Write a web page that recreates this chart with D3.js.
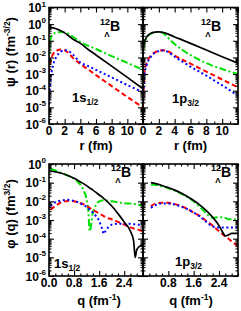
<!DOCTYPE html>
<html><head><meta charset="utf-8">
<script src="https://cdn.jsdelivr.net/npm/d3@7"></script>
<style>
body{margin:0;background:#fff}
svg{display:block}
text{font-family:"Liberation Sans",Arial,Helvetica,sans-serif;font-weight:bold;fill:#000}
</style>
</head><body>
<svg id="c" width="241" height="311"></svg>
<script>
// ---------- data ----------
const rGrid = [0, 0.2, 0.5, 1, 1.5, 2, 2.5, 3, 4, 5, 6, 8, 10, 12];
const psi1sBlack = [0.62, 0.62, 0.6, 0.5, 0.4, 0.3, 0.2, 0.13, 0.07, 0.03, 0.014, 3e-3, 6.3e-4, 1.3e-4];
const psi1sGreen = [0.012, 0.12, 0.25, 0.32, 0.34, 0.32, 0.26, 0.18, 0.085, 0.05, 0.032, 0.012, 4.7e-3, 1.8e-3];
const psi1sRed   = [1.2e-3, 6e-3, 0.015, 0.026, 0.03, 0.027, 0.018, 0.01, 4e-3, 1.9e-3, 8.7e-4, 1.9e-4, 4.2e-5, 1e-5];
const psi1sBlue  = [1.5e-5, 4e-4, 3e-3, 0.012, 0.022, 0.027, 0.024, 0.016, 5e-3, 3e-3, 1.8e-3, 6.3e-4, 2.2e-4, 8e-5];

const psi1pBlack = [0.06, 0.1, 0.18, 0.28, 0.33, 0.34, 0.32, 0.27, 0.17, 0.11, 0.07, 0.028, 0.011, 4.5e-3];
const psi1pGreen = [0.03, 0.08, 0.16, 0.27, 0.33, 0.34, 0.3, 0.18, 0.063, 0.028, 0.014, 4.5e-3, 2e-3, 1e-3];
const psi1pRed   = [1e-5, 1.5e-3, 5e-3, 0.013, 0.02, 0.025, 0.027, 0.025, 0.013, 7.2e-3, 4.2e-3, 1.4e-3, 4.7e-4, 1.6e-4];
const psi1pBlue  = [2e-5, 1e-3, 4e-3, 0.011, 0.019, 0.024, 0.026, 0.023, 0.011, 5.5e-3, 2.8e-3, 8e-4, 2.1e-4, 5e-5];

const qGrid1s = [0.05, 0.2, 0.4, 0.6, 0.8, 1.0, 1.1, 1.2, 1.25, 1.3, 1.4, 1.5, 1.6, 1.7, 1.75, 1.8, 2.0, 2.2, 2.4, 2.6, 2.7, 2.75, 2.8, 2.9, 3.0];
const phi1sBlack = [0.42, 0.38, 0.32, 0.24, 0.17, 0.11, 0.089, 0.069, 0.06, 0.052, 0.04, 0.03, 0.022, 0.017, 0.014, 0.012, 5.6e-3, 2.2e-3, 7.9e-4, 2.5e-4, 7.9e-5, 1e-5, 2.5e-5, 4e-5, 5e-5];
const phi1sGreen = [0.56, 0.45, 0.33, 0.24, 0.16, 0.079, 0.04, 0.013, 4e-3, 2.5e-4, 2.5e-3, 6.3e-3, 0.01, 0.011, 0.011, 0.011, 0.01, 8.9e-3, 7.9e-3, 7.6e-3, 7.1e-3, 7.1e-3, 6.8e-3, 6.3e-3, 6.3e-3];
const phi1sRed   = [3.5e-3, 5.6e-3, 8.9e-3, 0.0105, 0.01, 7.9e-3, 7.1e-3, 5.6e-3, 5e-3, 4.5e-3, 3.5e-3, 2.8e-3, 2.2e-3, 1.8e-3, 1.6e-3, 1.4e-3, 1.1e-3, 7.9e-4, 5.6e-4, 4e-4, 3.5e-4, 3.3e-4, 3.2e-4, 2.8e-4, 2.5e-4];
const phi1sBlue  = [5.6e-3, 8.9e-3, 0.011, 0.012, 0.0105, 7.9e-3, 6.3e-3, 5e-3, 4.2e-3, 3.5e-3, 2.5e-3, 1.6e-3, 8.9e-4, 3.2e-4, 1.8e-4, 2.5e-4, 5.6e-4, 6.3e-4, 6.3e-4, 6.3e-4, 6e-4, 6e-4, 5.9e-4, 5.6e-4, 5.6e-4];

const qGrid1p = [0.25, 0.4, 0.6, 0.8, 1.0, 1.2, 1.4, 1.6, 1.8, 2.0, 2.2, 2.4, 2.5, 2.6, 2.7, 2.8, 3.0];
const phi1pBlack = [0.1, 0.089, 0.071, 0.054, 0.04, 0.028, 0.018, 0.011, 6.3e-3, 3.2e-3, 1.4e-3, 5e-4, 2.5e-4, 1.4e-4, 1.6e-4, 1.9e-4, 1.9e-4];
const phi1pGreen = [0.079, 0.076, 0.063, 0.05, 0.038, 0.026, 0.017, 0.01, 5e-3, 2.2e-3, 1.3e-3, 1.4e-3, 1.4e-3, 1.3e-3, 1.1e-3, 1.1e-3, 1e-3];
const phi1pRed   = [5.6e-3, 7.6e-3, 8.5e-3, 8.3e-3, 7.1e-3, 5.6e-3, 4e-3, 2.5e-3, 1.6e-3, 8.9e-4, 5e-4, 2.5e-4, 1.8e-4, 1.3e-4, 1e-4, 7.1e-5, 4e-5];
const phi1pBlue  = [4.5e-3, 6.3e-3, 7.6e-3, 7.6e-3, 6.8e-3, 5.2e-3, 3.8e-3, 2.5e-3, 1.5e-3, 7.9e-4, 4.5e-4, 4e-4, 4e-4, 4e-4, 4e-4, 4e-4, 4e-4];

const rTickLabels = ["0", "2", "4", "6", "8", "10"];
const qTickLabelsLeft = ["0.0", "0.8", "1.6", "2.4"];
const qTickLabelsRight = ["0.8", "1.6", "2.4"];
const psiExponents = ["1", "0", "-1", "-2", "-3", "-4", "-5", "-6"];
const phiExponents = ["0", "-1", "-2", "-3", "-4", "-5", "-6"];
const stateLabels = [["1s", "1/2"], ["1p", "3/2"]];

// ---------- drawing ----------
const svg = d3.select('#c');
const styles = {
  black: {stroke: '#000', w: 1.7, dash: null},
  green: {stroke: '#00e000', w: 2, dash: '7,2.5,2,2.5'},
  red:   {stroke: '#ff0000', w: 2, dash: '5,3'},
  blue:  {stroke: '#0000ff', w: 2, dash: '2,2.6'}
};

const panels = [
  {id: 'a', x0: 49, x1: 143, y0: 124, y1: 7.5, xd: [0, 12], yd: [1e-6, 10], grid: rGrid,
   series: {green: psi1sGreen, red: psi1sRed, blue: psi1sBlue, black: psi1sBlack},
   xLabels: rTickLabels.map(Number), xLabelText: rTickLabels, xMajor: 2, xMinor: 1, yLabels: psiExponents,
   state: 0, stateXY: [72, 102], nucXY: [120, 31]},
  {id: 'b', x0: 143, x1: 238, y0: 124, y1: 7.5, xd: [0, 12], yd: [1e-6, 10], grid: rGrid,
   series: {green: psi1pGreen, red: psi1pRed, blue: psi1pBlue, black: psi1pBlack},
   xLabels: rTickLabels.map(Number), xLabelText: rTickLabels, xMajor: 2, xMinor: 1, yLabels: null,
   state: 1, stateXY: [172, 103], nucXY: [221, 31]},
  {id: 'c', x0: 49, x1: 143, y0: 276, y1: 164, xd: [0, 3], yd: [1e-6, 1], grid: qGrid1s,
   series: {green: phi1sGreen, red: phi1sRed, blue: phi1sBlue, black: phi1sBlack},
   xLabels: qTickLabelsLeft.map(Number), xLabelText: qTickLabelsLeft, xMajor: 0.8, xMinor: 0.2, yLabels: phiExponents,
   state: 0, stateXY: [54, 268], nucXY: [131, 177]},
  {id: 'd', x0: 143, x1: 238, y0: 276, y1: 164, xd: [0, 3], yd: [1e-6, 1], grid: qGrid1p,
   series: {green: phi1pGreen, red: phi1pRed, blue: phi1pBlue, black: phi1pBlack},
   xLabels: qTickLabelsRight.map(Number), xLabelText: qTickLabelsRight, xMajor: 0.8, xMinor: 0.2, yLabels: null,
   state: 1, stateXY: [175, 266], nucXY: [231, 177]}
];

function range(a, b, s) { const o = []; for (let v = a; v <= b + 1e-9; v += s) o.push(+v.toFixed(6)); return o; }

panels.forEach(p => {
  const x = d3.scaleLinear().domain(p.xd).range([p.x0, p.x1]);
  const y = d3.scaleLog().domain(p.yd).range([p.y0, p.y1]);
  const g = svg.append('g');
  const clipId = 'clip-' + p.id;
  svg.append('clipPath').attr('id', clipId).append('rect')
    .attr('x', p.x0).attr('y', p.y1).attr('width', p.x1 - p.x0).attr('height', p.y0 - p.y1);

  // curves
  const cg = g.append('g').attr('clip-path', `url(#${clipId})`);
  Object.entries(p.series).forEach(([k, vals]) => {
    const st = styles[k];
    const line = d3.line().x((d, i) => x(p.grid[i])).y(d => y(d)).curve(d3.curveMonotoneX);
    cg.append('path').attr('d', line(vals)).attr('fill', 'none')
      .attr('stroke', st.stroke).attr('stroke-width', st.w)
      .attr('stroke-dasharray', st.dash);
  });

  // ticks
  const lo = Math.round(Math.log10(p.yd[0])), hi = Math.round(Math.log10(p.yd[1]));
  const yMaj = [], yMin = [];
  for (let e = lo; e <= hi; e++) {
    yMaj.push(Math.pow(10, e));
    if (e < hi) for (let k = 2; k <= 9; k++) yMin.push(k * Math.pow(10, e));
  }
  const xMaj = range(p.xd[0], p.xd[1], p.xMajor);
  const xMin = range(p.xd[0], p.xd[1], p.xMinor).filter(v => !xMaj.some(m => Math.abs(m - v) < 1e-6));
  const tickAxes = [
    [d3.axisRight(y), `translate(${p.x0},0)`, yMaj, yMin],
    [d3.axisLeft(y), `translate(${p.x1},0)`, yMaj, yMin],
    [d3.axisTop(x), `translate(0,${p.y0})`, xMaj, xMin],
    [d3.axisBottom(x), `translate(0,${p.y1})`, xMaj, xMin]
  ];
  tickAxes.forEach(([ax, tr, maj, mn]) => {
    [[maj, 5], [mn, 2.5]].forEach(([vals, len]) => {
      const a = g.append('g').attr('transform', tr)
        .call(ax.tickValues(vals).tickSize(len).tickFormat(''));
      a.select('.domain').remove();
      a.selectAll('line').attr('stroke', '#000').attr('stroke-width', 1.1);
    });
  });

  // frame
  g.append('rect').attr('x', p.x0).attr('y', p.y1).attr('width', p.x1 - p.x0).attr('height', p.y0 - p.y1)
    .attr('fill', 'none').attr('stroke', '#000').attr('stroke-width', 1.6);

  // x tick labels
  p.xLabels.forEach((v, i) => {
    svg.append('text').attr('x', x(v)).attr('y', p.y0 + 11).attr('text-anchor', 'middle')
      .attr('font-size', 12).text(p.xLabelText[i]);
  });

  // y tick labels
  if (p.yLabels) {
    p.yLabels.forEach(ex => {
      const t = svg.append('text').attr('x', 46).attr('y', y(Math.pow(10, +ex)) + 4.5)
        .attr('text-anchor', 'end').attr('font-size', 12);
      t.append('tspan').text('10');
      t.append('tspan').attr('dy', -5.5).attr('font-size', 8).text(ex);
    });
  }

  // state label
  const sl = stateLabels[p.state];
  const st = svg.append('text').attr('x', p.stateXY[0]).attr('y', p.stateXY[1]).attr('font-size', 13);
  st.append('tspan').text(sl[0]);
  st.append('tspan').attr('dy', 3).attr('font-size', 8.5).text(sl[1]);

  // nucleus label  12/Λ B
  const nx = p.nucXY[0], ny = p.nucXY[1];
  svg.append('text').attr('x', nx).attr('y', ny).attr('text-anchor', 'end').attr('font-size', 14).text('B');
  svg.append('text').attr('x', nx - 10).attr('y', ny - 6).attr('text-anchor', 'end').attr('font-size', 9).text('12');
  svg.append('text').attr('x', nx - 10.5).attr('y', ny + 6).attr('text-anchor', 'end').attr('font-size', 8)
    .attr('font-weight', 'normal').text('\u039B');
});

// axis titles
function xTitle(cx, cy, main, sup, tail) {
  const t = svg.append('text').attr('x', cx).attr('y', cy).attr('text-anchor', 'middle').attr('font-size', 13);
  t.append('tspan').text(main);
  if (sup) { t.append('tspan').attr('dy', -5.5).attr('font-size', 8.5).text(sup); t.append('tspan').attr('dy', 5.5).text(tail); }
}
xTitle(96, 149.5, 'r (fm)');
xTitle(190.5, 149.5, 'r (fm)');
xTitle(99, 305, 'q (fm', '-1', ')');
xTitle(191, 305, 'q (fm', '-1', ')');

function yTitle(cx, cy, main, sup) {
  const t = svg.append('text').attr('transform', `translate(${cx},${cy}) rotate(-90)`)
    .attr('text-anchor', 'middle').attr('font-size', 13);
  t.append('tspan').text(main);
  t.append('tspan').attr('dy', -5.5).attr('font-size', 8.5).text(sup);
  t.append('tspan').attr('dy', 5.5).text(')');
}
yTitle(15, 52, '\u03C8 (r) (fm', '-3/2');
yTitle(15, 214, '\u03C6 (q) (fm', '3/2');
</script>
</body></html>
